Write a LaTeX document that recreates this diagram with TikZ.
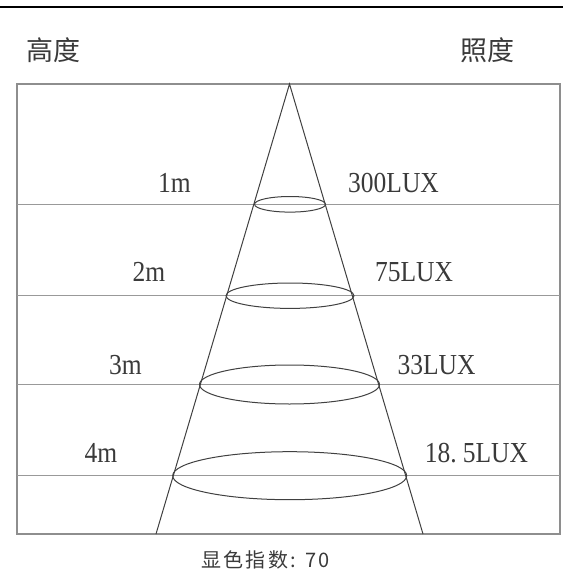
\documentclass[tikz,border=0pt]{standalone}
\usepackage{fontspec}
\setmainfont{Liberation Serif}
\newfontfamily\cjk{Noto Sans CJK SC}
\newfontfamily\lab[FakeStretch=0.88]{Liberation Serif}
\definecolor{txt}{HTML}{3A3A3A}
\definecolor{frame}{HTML}{8E8E8E}
\definecolor{cone}{HTML}{404040}
\begin{document}
\begin{tikzpicture}[x=1pt,y=-1pt,
  lbl/.style={inner sep=0pt,text=txt,font=\lab\fontsize{29}{30}\selectfont},
  head/.style={inner sep=0pt,text=txt,font=\cjk\fontsize{27}{30}\selectfont},
  frameline/.style={draw=frame,line width=2pt},
  rowline/.style={draw=frame!90,line width=1.5pt},
  coneline/.style={draw=cone,line width=1pt},
  spot/.style={draw=cone,line width=1pt}]
\useasboundingbox (0,0) rectangle (563,583);
% header rule
\coordinate (hl) at (0,7);
\coordinate (hr) at (563,7);
\draw[black,line width=2.5pt] (hl) -- (hr);
% headings
\node[head] (h1) at (53,50) {高度};
\node[head] (h2) at (487,50) {照度};
% frame
\coordinate (tl) at (17,84);
\coordinate (br) at (560,534);
\draw[frameline] (tl) rectangle (br);
% row lines
\foreach \y/\n in {204.3/a,295.7/b,384.4/c,475.7/d}{
  \coordinate (l\n) at (17,\y);
  \coordinate (r\n) at (560,\y);
  \draw[rowline] (l\n) -- (r\n);
}
% cone
\coordinate (apex) at (289.5,84);
\coordinate (bl) at (156,534);
\coordinate (brc) at (423,534);
\draw[coneline] (bl) -- (apex) -- (brc);
% ellipses
\coordinate (e1) at (290,204.3);
\coordinate (e2) at (290,295.7);
\coordinate (e3) at (289.5,384.5);
\coordinate (e4) at (289.7,475.7);
\draw[spot] (e1) ellipse [x radius=35.5pt, y radius=7.8pt];
\draw[spot] (e2) ellipse [x radius=64pt, y radius=12.7pt];
\draw[spot] (e3) ellipse [x radius=90pt, y radius=19.5pt];
\draw[spot] (e4) ellipse [x radius=117pt, y radius=24pt];
% labels
\node[lbl] (m1) at (174.5,183) {1m};
\node[lbl] (x1) at (393.5,183) {300LUX};
\node[lbl] (m2) at (149,272) {2m};
\node[lbl] (x2) at (414,272) {75LUX};
\node[lbl] (m3) at (125.5,365) {3m};
\node[lbl] (x3) at (436.5,365) {33LUX};
\node[lbl] (m4) at (101,453) {4m};
\node[lbl] (x4) at (476.5,453) {18.\hspace{6pt}5LUX};
% footer
\node[inner sep=0pt,text=txt,font=\cjk\fontsize{20}{22}\selectfont] (ft) at (265.5,560) {\addfontfeatures{LetterSpace=12}显色指数: 70};
\end{tikzpicture}
\end{document}
